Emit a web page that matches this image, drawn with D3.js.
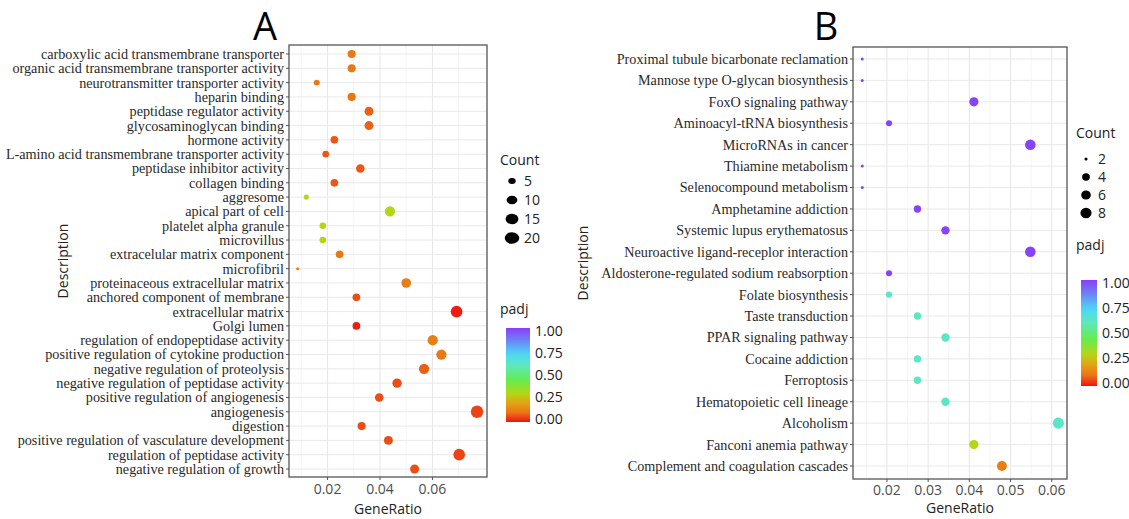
<!DOCTYPE html>
<html lang="en">
<head>
  <meta charset="UTF-8">
  <title>GO / KEGG enrichment dot plots</title>
  <script src="https://d3js.org/d3.v7.min.js"></script>
  <style>
    body { margin: 0; background: #fff; }
    svg { display: block; }
    .term { font-family: "Liberation Serif", serif; font-size: 14.2px; fill: #2a2a2a; }
    .tick-x { font-family: "Open Sans", sans-serif; font-size: 14px; fill: #4d4d4d; }
    .axis-title { font-family: "Open Sans", sans-serif; font-size: 14px; fill: #222; }
    .leg { font-family: "Open Sans", sans-serif; font-size: 14px; fill: #222; }
    .panel-tag { font-family: "Open Sans", sans-serif; font-size: 38px; fill: #000; }
  </style>
</head>
<body>
<svg width="1129" height="519"></svg>
<script>
// ---- panel A (GO terms) ----
const termsA = [
  "carboxylic acid transmembrane transporter", "organic acid transmembrane transporter activity",
  "neurotransmitter transporter activity", "heparin binding", "peptidase regulator activity",
  "glycosaminoglycan binding", "hormone activity", "L-amino acid transmembrane transporter activity",
  "peptidase inhibitor activity", "collagen binding", "aggresome", "apical part of cell",
  "platelet alpha granule", "microvillus", "extracelular matrix component", "microfibril",
  "proteinaceous extracellular matrix", "anchored component of membrane", "extracellular matrix",
  "Golgi lumen", "regulation of endopeptidase activity", "positive regulation of cytokine production",
  "negative regulation of proteolysis", "negative regulation of peptidase activity",
  "positive regulation of angiogenesis", "angiogenesis", "digestion",
  "positive regulation of vasculature development", "regulation of peptidase activity",
  "negative regulation of growth"
];
const ratioA = [0.0292, 0.0292, 0.0159, 0.0292, 0.0358, 0.0358, 0.0226, 0.0193, 0.0325, 0.0226,
  0.0119, 0.0438, 0.0182, 0.0182, 0.0246, 0.0086, 0.0500, 0.0310, 0.0692, 0.0310,
  0.0601, 0.0634, 0.0568, 0.0465, 0.0397, 0.0770, 0.0330, 0.0432, 0.0702, 0.0532];
const countA = [9, 9, 5, 9, 11, 11, 8, 6, 10, 8, 4, 15, 6, 6, 8, 3, 13, 8, 20, 8,
  15, 15, 15, 12, 10, 23, 9, 11, 20, 11];
const padjA = [0.11, 0.11, 0.11, 0.10, 0.08, 0.08, 0.07, 0.07, 0.07, 0.07, 0.30, 0.30, 0.30, 0.30,
  0.11, 0.11, 0.12, 0.06, 0.01, 0.01, 0.12, 0.11, 0.08, 0.06, 0.06, 0.05, 0.06, 0.06, 0.05, 0.06];
const xTicksA = [0.02, 0.04, 0.06];
const countBreaksA = [5, 10, 15, 20];

// ---- panel B (KEGG pathways) ----
const termsB = [
  "Proximal tubule bicarbonate reclamation", "Mannose type O-glycan biosynthesis",
  "FoxO signaling pathway", "Aminoacyl-tRNA biosynthesis", "MicroRNAs in cancer",
  "Thiamine metabolism", "Selenocompound metabolism", "Amphetamine addiction",
  "Systemic lupus erythematosus", "Neuroactive ligand-receplor interaction",
  "Aldosterone-regulated sodium reabsorption", "Folate biosynthesis", "Taste transduction",
  "PPAR signaling pathway", "Cocaine addiction", "Ferroptosis", "Hematopoietic cell lineage",
  "Alcoholism", "Fanconi anemia pathway", "Complement and coagulation cascades"
];
const ratioB = [0.0140, 0.0140, 0.0411, 0.0205, 0.0548, 0.0140, 0.0140, 0.0274, 0.0342, 0.0548,
  0.0205, 0.0205, 0.0274, 0.0342, 0.0274, 0.0274, 0.0342, 0.0616, 0.0411, 0.0479];
const countB = [2, 2, 6, 3, 8, 2, 2, 4, 5, 8, 3, 3, 4, 5, 4, 4, 5, 9, 6, 7];
const padjB = [0.99, 0.99, 0.99, 0.99, 0.99, 0.99, 0.99, 0.99, 0.99, 0.99, 0.99,
  0.62, 0.62, 0.62, 0.62, 0.62, 0.62, 0.62, 0.30, 0.12];
const xTicksB = [0.02, 0.03, 0.04, 0.05, 0.06];
const countBreaksB = [2, 4, 6, 8];

const padjTicks = [0, 0.25, 0.5, 0.75, 1];

// rainbow-ish padj colour scale (red = 0, purple = 1)
const padjColor = d3.scaleLinear()
  .domain([0, 0.1, 0.2, 0.3, 0.45, 0.6, 0.72, 0.86, 1])
  .range(["#f01212", "#ea7416", "#e4a214", "#b4d614", "#62ee52", "#5ee8bc", "#4cdaf6", "#6a88f6", "#8a3ef6"]);

const svg = d3.select("svg");

function drawPanel(p) {
  const g = svg.append("g");
  const x = d3.scaleLinear().domain(p.xDomain).range([p.left, p.right]);
  const y = d3.scalePoint().domain(p.terms).range([p.rowTop, p.rowBottom]);
  const cMin = d3.min(p.counts), cMax = d3.max(p.counts);
  const t = d3.scaleLinear().domain([cMin, cMax]).range([0, 1]).clamp(true);
  const r = c => p.rMin + (p.rMax - p.rMin) * Math.sqrt(t(c));

  // minor grid
  g.append("g").selectAll("line").data(p.minor).join("line")
    .attr("x1", d => x(d)).attr("x2", d => x(d))
    .attr("y1", p.top).attr("y2", p.bottom)
    .attr("stroke", "#f3f3f3").attr("stroke-width", 0.8);
  // major grid
  g.append("g").selectAll("line").data(p.xTicks).join("line")
    .attr("x1", d => x(d)).attr("x2", d => x(d))
    .attr("y1", p.top).attr("y2", p.bottom)
    .attr("stroke", "#e6e6e6").attr("stroke-width", 1);
  g.append("g").selectAll("line").data(p.terms).join("line")
    .attr("x1", p.left).attr("x2", p.right)
    .attr("y1", d => y(d)).attr("y2", d => y(d))
    .attr("stroke", "#e9e9e9").attr("stroke-width", 1);

  // frame
  g.append("rect")
    .attr("x", p.left).attr("y", p.top)
    .attr("width", p.right - p.left).attr("height", p.bottom - p.top)
    .attr("fill", "none").attr("stroke", "#555").attr("stroke-width", 1.3);

  // y ticks + labels
  g.append("g").selectAll("line").data(p.terms).join("line")
    .attr("x1", p.left - 3).attr("x2", p.left)
    .attr("y1", d => y(d)).attr("y2", d => y(d))
    .attr("stroke", "#555");
  g.append("g").selectAll("text").data(p.terms).join("text")
    .attr("class", "term")
    .attr("x", p.left - 5).attr("y", d => y(d))
    .attr("dy", "0.35em").attr("text-anchor", "end")
    .text(d => d);

  // x ticks + labels
  g.append("g").selectAll("line").data(p.xTicks).join("line")
    .attr("x1", d => x(d)).attr("x2", d => x(d))
    .attr("y1", p.bottom).attr("y2", p.bottom + 3)
    .attr("stroke", "#555");
  g.append("g").selectAll("text").data(p.xTicks).join("text")
    .attr("class", "tick-x")
    .attr("x", d => x(d)).attr("y", p.bottom + p.tickDy)
    .attr("text-anchor", "middle")
    .text(d => d3.format(".2f")(d));

  g.append("text").attr("class", "axis-title")
    .attr("x", (p.left + p.right) / 2).attr("y", p.bottom + p.xTitleDy)
    .attr("text-anchor", "middle").text("GeneRatio");
  g.append("text").attr("class", "axis-title")
    .attr("transform", `translate(${p.yTitleX},${(p.top + p.bottom) / 2}) rotate(-90)`)
    .attr("text-anchor", "middle").text("Description");

  // dots
  const rows = p.terms.map((term, i) => ({ term, ratio: p.ratios[i], count: p.counts[i], padj: p.padj[i] }));
  g.append("g").selectAll("circle").data(rows).join("circle")
    .attr("cx", d => x(d.ratio)).attr("cy", d => y(d.term))
    .attr("r", d => r(d.count))
    .attr("fill", d => padjColor(d.padj));

  // panel tag
  g.append("text").attr("class", "panel-tag")
    .attr("x", p.tagX).attr("y", 40).attr("text-anchor", "middle").text(p.tag);

  // count legend
  const lg = g.append("g");
  lg.append("text").attr("class", "leg").attr("x", p.legX).attr("y", p.legY).text("Count");
  lg.selectAll("ellipse").data(p.countBreaks).join("ellipse")
    .attr("cx", p.legX + p.legDotDx)
    .attr("cy", (d, i) => p.legY + p.legFirst + i * p.legStep)
    .attr("rx", d => r(d) * p.legStretch).attr("ry", d => r(d))
    .attr("fill", "#000");
  lg.selectAll("text.cnt").data(p.countBreaks).join("text")
    .attr("class", "leg cnt")
    .attr("x", p.legX + p.legDotDx + 12)
    .attr("y", (d, i) => p.legY + p.legFirst + i * p.legStep)
    .attr("dy", "0.35em").text(d => d);

  // padj colourbar
  const gradId = "grad" + p.tag;
  const grad = svg.append("defs").append("linearGradient")
    .attr("id", gradId).attr("x1", 0).attr("y1", 1).attr("x2", 0).attr("y2", 0);
  d3.range(0, 1.0001, 0.05).forEach(v => {
    grad.append("stop").attr("offset", v).attr("stop-color", padjColor(v));
  });
  lg.append("text").attr("class", "leg").attr("x", p.legX).attr("y", p.barTitleY).text("padj");
  const bar = d3.scaleLinear().domain([0, 1]).range([p.barBottom, p.barTop]);
  lg.append("rect")
    .attr("x", p.barX).attr("y", p.barTop - 3)
    .attr("width", p.barW).attr("height", p.barBottom - p.barTop + 6)
    .attr("fill", `url(#${gradId})`);
  lg.selectAll("text.pv").data(padjTicks).join("text")
    .attr("class", "leg pv")
    .attr("x", p.barX + p.barW + 5).attr("y", d => bar(d))
    .attr("dy", "0.35em").text(d => d3.format(".2f")(d));
}

drawPanel({
  tag: "A", tagX: 265,
  terms: termsA, ratios: ratioA, counts: countA, padj: padjA,
  xDomain: [0.0053, 0.0808], xTicks: xTicksA, minor: [0.01, 0.03, 0.05, 0.07],
  left: 289, right: 487, top: 45, bottom: 477, rowTop: 54, rowBottom: 469,
  rMin: 1.5, rMax: 6.2, yTitleX: 68, tickDy: 17, xTitleDy: 37,
  countBreaks: countBreaksA,
  legX: 500, legY: 165, legDotDx: 12, legFirst: 16, legStep: 19, legStretch: 1.25,
  barTitleY: 314, barX: 506, barW: 24, barTop: 331, barBottom: 419
});

drawPanel({
  tag: "B", tagX: 826,
  terms: termsB, ratios: ratioB, counts: countB, padj: padjB,
  xDomain: [0.01176, 0.0637], xTicks: xTicksB,
  minor: [0.015, 0.025, 0.035, 0.045, 0.055],
  left: 853, right: 1067, top: 47, bottom: 479, rowTop: 59, rowBottom: 466,
  rMin: 1.5, rMax: 5.6, yTitleX: 588, tickDy: 16, xTitleDy: 34,
  countBreaks: countBreaksB,
  legX: 1076, legY: 138, legDotDx: 10, legFirst: 21, legStep: 18, legStretch: 1.05,
  barTitleY: 250, barX: 1081, barW: 16, barTop: 283, barBottom: 383
});
</script>
</body>
</html>
